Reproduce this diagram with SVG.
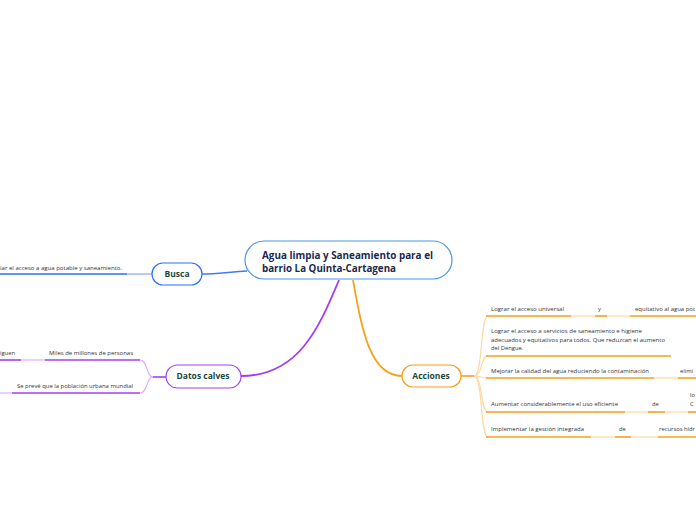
<svg xmlns="http://www.w3.org/2000/svg" width="696" height="520" viewBox="0 0 696 520">
<style>
.leaf{font-family:"Open Sans","Noto Sans",sans-serif;font-size:5.8px;fill:#333}
.node{font-family:"Open Sans","Noto Sans",sans-serif;font-size:8.5px;font-weight:bold;fill:#1d4a3a;text-anchor:middle}
.title{font-family:"Open Sans","Noto Sans",sans-serif;font-size:10.5px;font-weight:bold;fill:#1b2a4e}
.ob{stroke:#f7a11a;stroke-width:1.6;fill:none}
.ol{stroke:#fcd9a4;stroke-width:1.2;fill:none}
.pb{stroke:#a43ef4;stroke-width:1.6;fill:none}
.pl{stroke:#dfb0f8;stroke-width:1.2;fill:none}
.bb{stroke:#2f6ff6;stroke-width:1.6;fill:none}
.bl{stroke:#86a9f7;stroke-width:1.2;fill:none}
</style>
<rect width="696" height="520" fill="#fff"/>
<g id="connectors">
<path d="M247,271 C230,272 215,274 202,274" stroke="#3e7cf3" stroke-width="1.6" fill="none"/>
<path d="M339,280 C320,325 300,376 241,376" stroke="#a43ef4" stroke-width="1.8" fill="none"/>
<path d="M353,280 C362,330 370,376 402,376" stroke="#f7a11a" stroke-width="1.8" fill="none"/>
<path class="bl" d="M152,274 L127,274"/>
<path class="bb" d="M127,274 L0,274"/>
<path class="pb" d="M166,377 L153,377"/>
<path class="pl" d="M153,377 C146,377 148,360 140,360"/>
<path class="pl" d="M153,377 C146,377 148,393 140,393"/>
<path class="pb" d="M140,360 L45,360"/>
<path class="pl" d="M45,360 L21,360"/>
<path class="pb" d="M21,360 L0,360"/>
<path class="pb" d="M140,393 L12,393"/>
<path class="pl" d="M12,393 L0,393"/>
<path class="ob" d="M461,376 L474,376"/>
<path class="ol" d="M474,376 C483,376 480,316 488,316"/>
<path class="ol" d="M474,376 C483,376 480,356 488,356"/>
<path class="ol" d="M474,376 C480,376 482,378 488,378"/>
<path class="ol" d="M474,376 C483,376 480,412 488,412"/>
<path class="ol" d="M474,376 C483,376 480,437 488,437"/>
</g>
<g id="central">
<rect x="245" y="241" width="207" height="38" rx="19" fill="#fff" stroke="#4b97e4" stroke-width="1.2"/>
<text class="title" x="262" y="259" textLength="171" lengthAdjust="spacingAndGlyphs">Agua limpia y Saneamiento para el</text>
<text class="title" x="262" y="272" textLength="134" lengthAdjust="spacingAndGlyphs">barrio La Quinta-Cartagena</text>
</g>
<g id="busca">
<rect x="152" y="263" width="50" height="22" rx="11" fill="#fff" stroke="#2f6ff6" stroke-width="1.2"/>
<text class="node" x="177" y="277">Busca</text>
</g>
<g id="busca-leaf">
<text class="leaf" x="0" y="270" textLength="122" lengthAdjust="spacingAndGlyphs">iar el acceso a agua potable y saneamiento.</text>
</g>
<g id="datos">
<rect x="166" y="365" width="75" height="23" rx="11.5" fill="#fff" stroke="#a43ef4" stroke-width="1.2"/>
<text class="node" x="203" y="379">Datos calves</text>
</g>
<g id="datos-leaf1">
<text class="leaf" x="0" y="355">iguen</text>
<text class="leaf" x="49" y="355" textLength="84" lengthAdjust="spacingAndGlyphs">Miles de millones de personas</text>
</g>
<g id="datos-leaf2">
<text class="leaf" x="17" y="388" textLength="116" lengthAdjust="spacingAndGlyphs">Se prevé que la población urbana mundial</text>
</g>
<g id="acciones">
<rect x="402" y="365" width="59" height="22" rx="11" fill="#fff" stroke="#f7a11a" stroke-width="1.2"/>
<text class="node" x="431" y="379">Acciones</text>
</g>
<g id="accion1">
<path class="ob" d="M486,316 L571,316"/>
<path class="ol" d="M571,316 L595,316"/>
<path class="ob" d="M595,316 L607,316"/>
<path class="ol" d="M607,316 L630,316"/>
<path class="ob" d="M630,316 L696,316"/>
<text class="leaf" x="491" y="311" textLength="73" lengthAdjust="spacingAndGlyphs">Lograr el acceso universal</text>
<text class="leaf" x="598" y="311">y</text>
<text class="leaf" x="635" y="311" textLength="60" lengthAdjust="spacingAndGlyphs">equitativo al agua pot</text>
</g>
<g id="accion2">
<path class="ob" d="M486,356 L671,356"/>
<text class="leaf" x="491" y="333" textLength="151" lengthAdjust="spacingAndGlyphs">Lograr el acceso a servicios de saneamiento e higiene</text>
<text class="leaf" x="491" y="341.5" textLength="174" lengthAdjust="spacingAndGlyphs">adecuados y equitativos para todos. Que reduzcan el aumento</text>
<text class="leaf" x="491" y="350">del Dengue.</text>
</g>
<g id="accion3">
<path class="ob" d="M486,378 L654,378"/>
<path class="ol" d="M654,378 L678,378"/>
<path class="ob" d="M678,378 L696,378"/>
<text class="leaf" x="491" y="373" textLength="158" lengthAdjust="spacingAndGlyphs">Mejorar la calidad del agua reduciendo la contaminación</text>
<text class="leaf" x="680" y="373">elimi</text>
</g>
<g id="accion4">
<path class="ob" d="M486,412 L625,412"/>
<path class="ol" d="M625,412 L648,412"/>
<path class="ob" d="M648,412 L665,412"/>
<path class="ol" d="M665,412 L688,412"/>
<path class="ob" d="M688,412 L696,412"/>
<text class="leaf" x="491" y="406" textLength="127" lengthAdjust="spacingAndGlyphs">Aumentar considerablemente el uso eficiente</text>
<text class="leaf" x="652" y="406">de</text>
<text class="leaf" x="690" y="397">lo</text>
<text class="leaf" x="690" y="406">C</text>
</g>
<g id="accion5">
<path class="ob" d="M486,437 L591,437"/>
<path class="ol" d="M591,437 L615,437"/>
<path class="ob" d="M615,437 L631,437"/>
<path class="ol" d="M631,437 L658,437"/>
<path class="ob" d="M658,437 L696,437"/>
<text class="leaf" x="491" y="431" textLength="93" lengthAdjust="spacingAndGlyphs">Implementar la gestión integrada</text>
<text class="leaf" x="619" y="431">de</text>
<text class="leaf" x="659" y="431" textLength="36" lengthAdjust="spacingAndGlyphs">recursos hídr</text>
</g>
</svg>
